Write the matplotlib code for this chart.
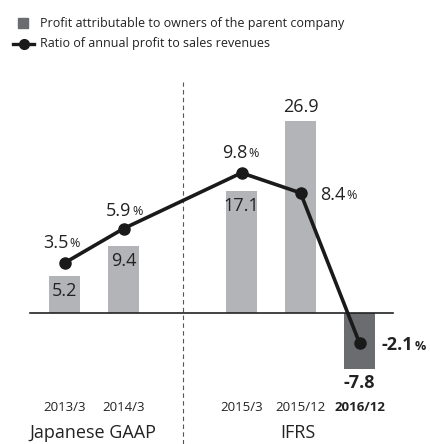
import matplotlib.pyplot as plt
from matplotlib.lines import Line2D

plt.rcParams['font.family'] = ['Open Sans', 'DejaVu Sans']

# datos
periodos = ['2013/3', '2014/3', '2015/3', '2015/12', '2016/12']
posiciones = [0, 1, 3, 4, 5]
beneficio = [5.2, 9.4, 17.1, 26.9, -7.8]
ratio = [3.5, 5.9, 9.8, 8.4, -2.1]
normas = ['Japanese GAAP', 'IFRS']

gris = '#b3b4b7'
gris_osc = '#6b6c70'

fig = plt.figure(figsize=(4.30, 4.44), dpi=100)
ax = fig.add_axes([0, 0, 1, 1])
ax.set_xlim(-64.5 / 59, (430 - 64.5) / 59)
ax.set_ylim(-(444 - 313) / 7.15, 313 / 7.15)
ax.axis('off')

ax2 = ax.twinx()
ax2.set_ylim(ax.get_ylim()[0] / 2, ax.get_ylim()[1] / 2)
ax2.axis('off')

colores = [gris] * 4 + [gris_osc]
ax.bar(posiciones, beneficio, width=0.53, color=colores, zorder=2)
ax.plot([-0.585, 5.57], [0, 0], color='#222222', lw=1.2, zorder=3)
ax.axvline(2, ymin=0, ymax=(444 - 82) / 444, color='#555555', lw=0.8,
           dashes=(4, 3), zorder=1)

ax2.plot(posiciones, ratio, color='#1a1a1a', lw=2.6, marker='o', ms=8, zorder=4)

# etiquetas de barras
off_barra = [(0, -15), (0, -15), (0, -15), (0, 14), (0, -14)]
for i, (p, v) in enumerate(zip(posiciones, beneficio)):
    peso = 'bold' if i == 4 else 'normal'
    ax.annotate(f'{v:.1f}', (p, v), xytext=off_barra[i], textcoords='offset pixels',
                ha='center', va='center', fontsize=13, color='#222222',
                fontweight=peso, zorder=5)

# etiquetas de porcentaje
off_pct = [(4, 20), (8, 18), (6, 20), (45, -2), (54, -2)]
for i, (p, r) in enumerate(zip(posiciones, ratio)):
    peso = 'bold' if i == 4 else 'normal'
    dx, dy = off_pct[i]
    ax2.annotate(f'{r:.1f}', (p, r), xytext=(dx, dy), textcoords='offset pixels',
                 ha='right', va='center', fontsize=13, color='#222222', fontweight=peso)
    ax2.annotate('%', (p, r), xytext=(dx + 1, dy - 1), textcoords='offset pixels',
                 ha='left', va='center', fontsize=9, color='#222222', fontweight=peso)

# eje x
for i, (p, t) in enumerate(zip(posiciones, periodos)):
    peso = 'bold' if i == 4 else 'normal'
    fig.text((64.5 + 59 * p) / 430, 1 - 407 / 444, t, ha='center', va='center',
             fontsize=9.5, color='#222222', fontweight=peso)
fig.text(93 / 430, 1 - 433 / 444, normas[0], ha='center', va='center',
         fontsize=13, color='#222222')
fig.text(298 / 430, 1 - 433 / 444, normas[1], ha='center', va='center',
         fontsize=13, color='#222222')

# leyenda
fig.patches.append(plt.Rectangle((18 / 430, 1 - 28 / 444), 10 / 430, 10 / 444,
                                 transform=fig.transFigure, color=gris_osc))
fig.lines.append(Line2D([13 / 430, 34 / 430], [1 - 44 / 444] * 2, transform=fig.transFigure,
                        color='#1a1a1a', lw=2.4))
fig.lines.append(Line2D([23.5 / 430], [1 - 44 / 444], transform=fig.transFigure,
                        color='#1a1a1a', marker='o', ms=7))
fig.text(40 / 430, 1 - 23 / 444, 'Profit attributable to owners of the parent company',
         ha='left', va='center', fontsize=9, color='#222222')
fig.text(40 / 430, 1 - 44 / 444, 'Ratio of annual profit to sales revenues',
         ha='left', va='center', fontsize=9, color='#222222')

fig.savefig('out.png', dpi=100)
